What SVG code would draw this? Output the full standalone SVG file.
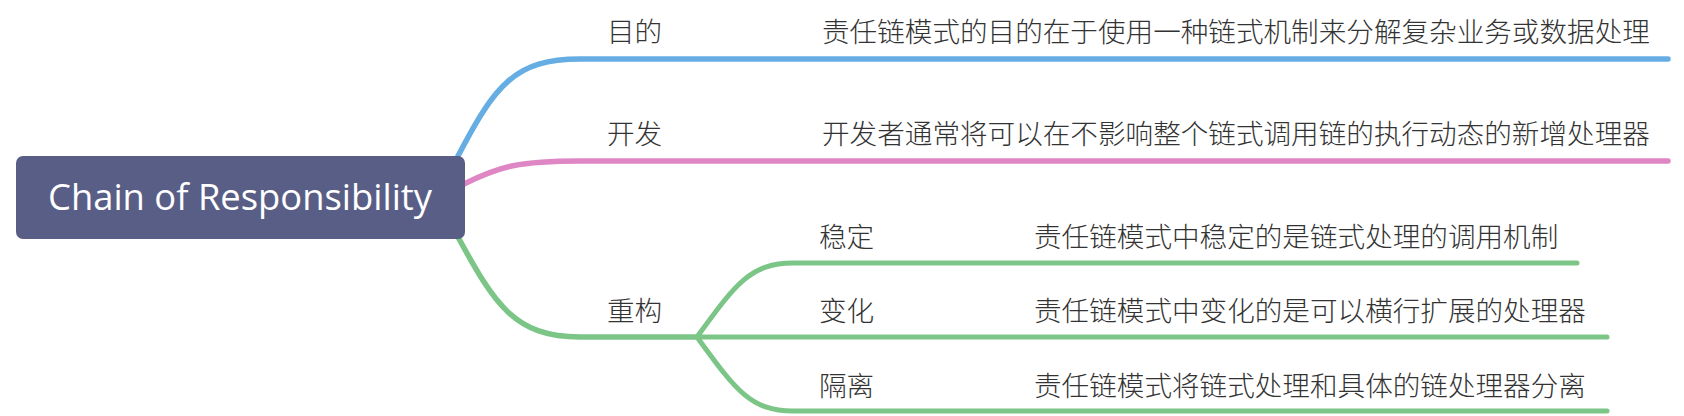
<svg xmlns="http://www.w3.org/2000/svg" width="1684" height="416" viewBox="0 0 1684 416">
<style>
.lbl{font-family:"Noto Sans CJK SC","Noto Sans",sans-serif;font-size:27.6px;font-weight:300;fill:#333333}
.root{font-family:"Open Sans","Noto Sans",sans-serif;font-size:36px;fill:#ffffff}
.c{fill:none;stroke-linecap:round}
.blue{stroke:#65ade3}
.pink{stroke:#df86c5}
.green{stroke:#7bc587}
.main{stroke-width:5.5}
.sub{stroke-width:5}
</style>
<rect width="1684" height="416" fill="#ffffff"/>
<g id="connectors">
<path class="c blue main" d="M458,156 C495,85 515,59 580,59 L1668,59"/>
<path class="c pink main" d="M464,184 C500,166 520,161 580,161 L1668,161"/>
<path class="c green main" d="M458,237 C495,305 515,337 580,337 L697,337"/>
<path class="c green sub" d="M697,337 C735,285 750,263 793,263 L1577,263"/>
<path class="c green sub" d="M697,337 L1607,337"/>
<path class="c green sub" d="M697,337 C735,389 750,411 793,411 L1607,411"/>
</g>
<g id="root">
<rect x="16" y="156" width="449" height="83" rx="7" fill="#595e86"/>
<text class="root" x="48" y="210" textLength="384" lengthAdjust="spacingAndGlyphs">Chain of Responsibility</text>
</g>
<g id="n-mudi"><text class="lbl" x="607" y="42">目的</text></g>
<g id="n-mudi-d"><text class="lbl" x="822" y="42">责任链模式的目的在于使用一种链式机制来分解复杂业务或数据处理</text></g>
<g id="n-kaifa"><text class="lbl" x="607" y="144">开发</text></g>
<g id="n-kaifa-d"><text class="lbl" x="822" y="144">开发者通常将可以在不影响整个链式调用链的执行动态的新增处理器</text></g>
<g id="n-chonggou"><text class="lbl" x="607" y="321">重构</text></g>
<g id="n-wending"><text class="lbl" x="819" y="247">稳定</text></g>
<g id="n-wending-d"><text class="lbl" x="1034" y="247">责任链模式中稳定的是链式处理的调用机制</text></g>
<g id="n-bianhua"><text class="lbl" x="819" y="321">变化</text></g>
<g id="n-bianhua-d"><text class="lbl" x="1034" y="321">责任链模式中变化的是可以横行扩展的处理器</text></g>
<g id="n-geli"><text class="lbl" x="819" y="396">隔离</text></g>
<g id="n-geli-d"><text class="lbl" x="1034" y="396">责任链模式将链式处理和具体的链处理器分离</text></g>
</svg>
